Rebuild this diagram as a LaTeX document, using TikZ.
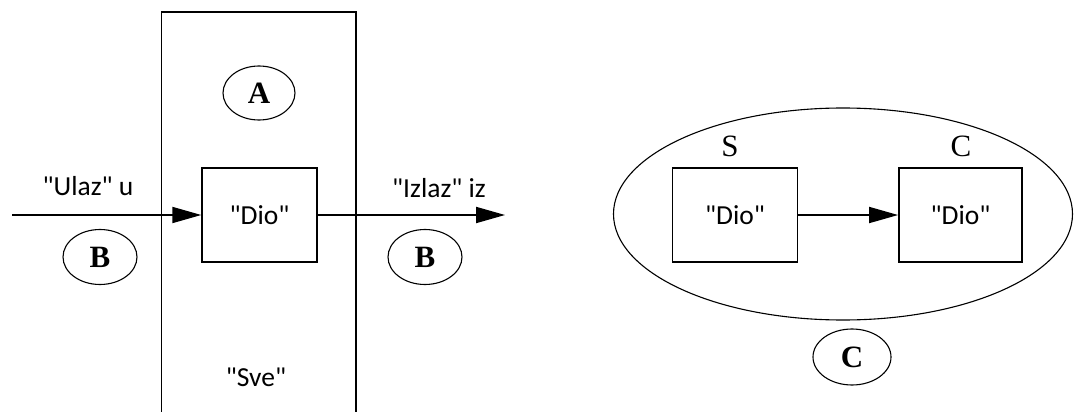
\documentclass[tikz,border=0pt]{standalone}
\usepackage{fontspec}
\usetikzlibrary{arrows.meta,shapes.geometric}
\newfontfamily\sansf{Carlito}
\newfontfamily\serf{Liberation Serif}
\tikzset{
  box/.style={draw, line width=1.8pt, rectangle, inner sep=0pt},
  oval/.style={draw, line width=1.1pt, ellipse, inner sep=0pt},
  tag/.style={font=\serf\bfseries\fontsize{31}{31}\selectfont, text=black},
  lbl/.style={font=\serf\fontsize{31}{31}\selectfont},
  txt/.style={font=\sansf\fontsize{27.5}{27.5}\selectfont},
  flow/.style={line width=1.8pt, -{Triangle[length=29pt,width=16pt]}}
}
\begin{document}
\begin{tikzpicture}[x=1pt,y=-1pt]
\useasboundingbox (0,0) rectangle (1074,412);
% Left part
\node[box, minimum width=194.5pt, minimum height=420pt] (sve) at (258.75,222) {};
\node[oval, minimum width=72pt, minimum height=54pt, tag] (A) at (259,93) {A};
\node[box, minimum width=114.5pt, minimum height=93.5pt, txt] (dio) at (259.5,215) {"Dio"};
\node[txt] (sveT) at (256,377) {"Sve"};
\coordinate (inStart) at (12,215);
\coordinate (outEnd) at (505,215);
\draw[flow] (inStart) -- (dio.west);
\draw[flow] (dio.east) -- (outEnd);
\node[txt] (ulaz) at (88,186) {"Ulaz" u};
\node[txt] (izlaz) at (439,188) {"Izlaz" iz};
\node[oval, minimum width=74pt, minimum height=55pt, tag] (B1) at (100,257) {B};
\node[oval, minimum width=74pt, minimum height=55pt, tag] (B2) at (425,257) {B};
% Right part
\node[oval, minimum width=459pt, minimum height=212pt] (big) at (843,214) {};
\node[box, minimum width=125pt, minimum height=93.5pt, txt] (S) at (735,215) {"Dio"};
\node[box, minimum width=123pt, minimum height=93.5pt, txt] (Cb) at (960.5,215) {"Dio"};
\node[lbl] (Sl) at (730,146) {S};
\node[lbl] (Cl) at (961,146) {C};
\draw[flow] (S.east) -- (Cb.west);
\node[oval, minimum width=78pt, minimum height=56pt, tag] (Cc) at (852,357) {C};
\end{tikzpicture}
\end{document}
